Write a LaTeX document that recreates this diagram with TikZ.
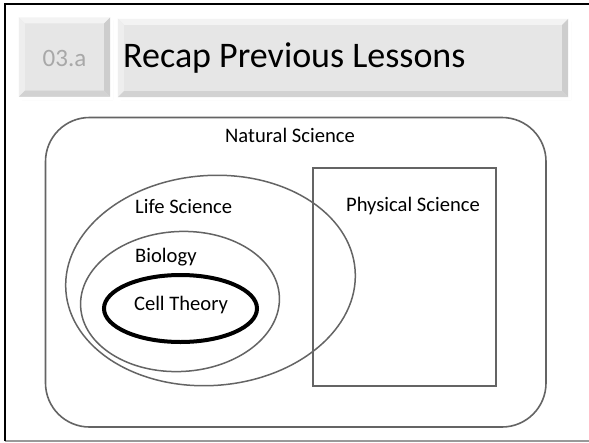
\documentclass[tikz,border=0pt]{standalone}
\usepackage{fontspec}
\setmainfont{Carlito}
\usetikzlibrary{shapes.geometric}
\definecolor{ln}{HTML}{646464}
\definecolor{face}{HTML}{E6E6E6}
\definecolor{bevlight}{HTML}{F3F3F3}
\definecolor{bevleft}{HTML}{EEEEEE}
\definecolor{bevdark}{HTML}{CDCDCD}
\definecolor{bevbot}{HTML}{D2D2D2}
\definecolor{numgray}{HTML}{A8A8A8}
\tikzset{
  hdrbox/.style={rectangle, fill=face, inner sep=0pt, draw=none},
  setline/.style={draw=ln, line width=1.6pt},
  label20/.style={font=\fontsize{20.6}{24}\selectfont, inner sep=0pt, text=black},
}
\newcommand\bevelize[1]{%
  \fill[black!8] ([shift={(3,3)}]#1.north east) rectangle ([shift={(3,3)}]#1.south east);
  \fill[black!8] ([shift={(3,3)}]#1.south west) rectangle ([shift={(3,3)}]#1.south east);
  \fill[bevlight] (#1.north west) -- (#1.north east) -- ([shift={(-6,6)}]#1.north east) -- ([shift={(6,6)}]#1.north west) -- cycle;
  \fill[bevleft] (#1.north west) -- ([shift={(6,6)}]#1.north west) -- ([shift={(6,-6)}]#1.south west) -- (#1.south west) -- cycle;
  \fill[bevdark] (#1.north east) -- (#1.south east) -- ([shift={(-6,-6)}]#1.south east) -- ([shift={(-6,6)}]#1.north east) -- cycle;
  \fill[bevbot] (#1.south west) -- ([shift={(6,-6)}]#1.south west) -- ([shift={(-6,-6)}]#1.south east) -- (#1.south east) -- cycle;
}
\begin{document}
\begin{tikzpicture}[x=1pt,y=-1pt]
\useasboundingbox (0,0) rectangle (589,442);
\fill[white] (0,0) rectangle (589,442);
% slide frame
\coordinate (ftl) at (5,3.5);
\coordinate (ftr) at (589,3.5);
\coordinate (fbl) at (5,441);
\coordinate (fbr) at (589,441);
\draw[black!40, line width=1.2pt] (fbl) -- (fbr);
\draw[black, line width=2pt] (fbl) -- (ftl) -- (ftr);
% header boxes
\node[hdrbox, minimum width=91pt, minimum height=79pt] (numbox) at (64.5,57) {};
\node[hdrbox, minimum width=450pt, minimum height=78pt] (titlebox) at (343,58) {};
\bevelize{numbox}
\bevelize{titlebox}
\node[font=\fontsize{25}{30}\selectfont, text=numgray, inner sep=0pt] (num) at (64.5,58) {03.a};
\node[font=\fontsize{36}{43}\selectfont, text=black, inner sep=0pt, anchor=west] (title) at (123,58) {Recap Previous Lessons};
% sets
\draw[setline, rounded corners=44pt] (45.5,117.5) rectangle (546,427) coordinate (natbr);
\node[label20] (natural) at (290,135) {Natural Science};
\node[rectangle, draw=ln, line width=2pt, minimum width=183pt, minimum height=218pt, inner sep=0pt] (physbox) at (404.5,277) {};
\node[label20] (physical) at (413,206) {Physical Science};
\node[ellipse, setline, line width=1.5pt, minimum width=290pt, minimum height=210pt, rotate=4, inner sep=0pt] (lifeell) at (210.5,280.5) {};
\node[ellipse, setline, line width=1.5pt, minimum width=199pt, minimum height=140pt, rotate=3, inner sep=0pt] (bioell) at (180,301.5) {};
\node[ellipse, draw=black, line width=4pt, minimum width=153pt, minimum height=67pt, inner sep=0pt] (cellell) at (180.5,308.5) {};
\node[label20, anchor=west] (life) at (135,206) {Life Science};
\node[label20, anchor=west] (biology) at (135,257) {Biology};
\node[label20] (cell) at (181,305) {Cell Theory};
\end{tikzpicture}
\end{document}
